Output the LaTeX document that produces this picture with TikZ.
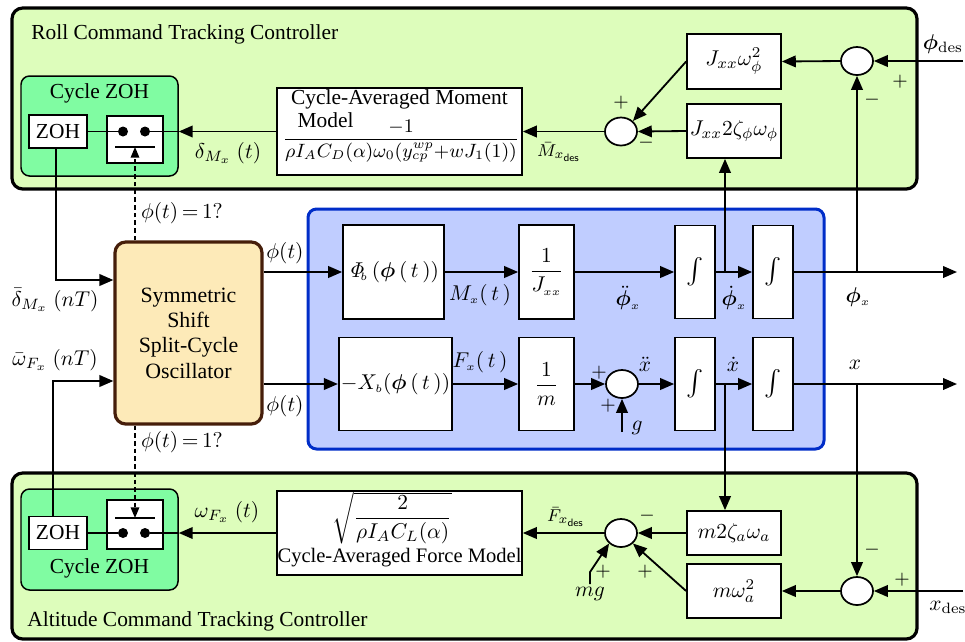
\documentclass[tikz,border=0pt]{standalone}
\usepackage{amsmath,amssymb,bm}
\usepackage[no-math]{fontspec}
\setmainfont{Liberation Serif}
\usetikzlibrary{arrows.meta,shapes.geometric,calc}

\definecolor{panelgreen}{RGB}{221,253,187}
\definecolor{zohgreen}{RGB}{128,252,162}
\definecolor{plantblue}{RGB}{192,205,255}
\definecolor{plantedge}{RGB}{0,45,200}
\definecolor{oscfill}{RGB}{253,234,184}
\definecolor{oscedge}{RGB}{70,30,10}

\def\pxu{0.467pt}

\begin{document}
\begin{tikzpicture}[x=0.467pt,y=-0.467pt,
  wh/.style 2 args={minimum width=#1*\pxu, minimum height=#2*\pxu},
  panel/.style={draw=black, line width=1.5pt, fill=panelgreen, rounded corners=5pt, inner sep=0pt},
  zohgroup/.style={draw=black, line width=0.7pt, fill=zohgreen, rounded corners=4pt, inner sep=0pt},
  blk/.style={draw=black, line width=0.8pt, fill=white, inner sep=1pt},
  sumnode/.style={ellipse, draw=black, line width=0.8pt, fill=white, minimum width=32*\pxu, minimum height=28*\pxu, inner sep=0pt},
  dotnode/.style={circle, fill=black, minimum size=10*\pxu, inner sep=0pt},
  conn/.style={line width=0.85pt, -{Triangle[length=6.5pt,width=5.4pt]}},
  plain/.style={line width=0.85pt},
  trig/.style={line width=0.7pt, dash pattern=on 2.2pt off 1.4pt, -{Triangle[length=5pt,width=4pt]}},
  sgn/.style={inner sep=0pt, font=\small},
]
\useasboundingbox (0,0) rectangle (965,641);

% ---------------- controller panels ----------------
\node[panel, wh={905}{181}] (roll) at (464.5,98.5) {};
\node[panel, wh={905}{166}] (alt) at (464.5,556) {};
\node[anchor=base west, inner sep=0pt] (rolltitle) at (31,39) {Roll Command Tracking Controller};
\node[anchor=base west, inner sep=0pt] (alttitle) at (27,626) {Altitude Command Tracking Controller};

% ---------------- plant ----------------
\node[draw=plantedge, line width=1.4pt, fill=plantblue, rounded corners=4pt, wh={516}{240}, inner sep=0pt] (plant) at (566,329) {};

% ---------------- oscillator ----------------
\node[draw=oscedge, line width=1.5pt, fill=oscfill, rounded corners=5pt, wh={147}{182}, align=center, inner sep=0pt, font=\fontsize{10.2}{11.8}\selectfont] (osc) at (188.5,333)
  {Symmetric\\Shift\\Split-Cycle\\Oscillator};

% ---------------- top cycle ZOH ----------------
\node[zohgroup, wh={157}{100}] (czT) at (99.5,126) {};
\node (czTtitle) at (99.5,93) {Cycle ZOH};
\node[blk, wh={58}{33}] (zohT) at (58,131.5) {ZOH};
\node[blk, wh={56}{47}] (swT) at (135,139.5) {};
\node[dotnode] (dTl) at (123,131.5) {};
\node[dotnode] (dTr) at (145,131.5) {};
\coordinate (barTl) at (115,147);
\coordinate (barTr) at (155,147);
\coordinate (barT) at (135,147);
\draw[line width=0.9pt] (barTl) -- (barTr);

% ---------------- bottom cycle ZOH ----------------
\node[zohgroup, wh={157}{101}] (czB) at (99.5,539.5) {};
\node (czBtitle) at (99.5,568) {Cycle ZOH};
\node[blk, wh={58}{33}] (zohB) at (58,533) {ZOH};
\node[blk, wh={56}{49}] (swB) at (135,524.5) {};
\node[dotnode] (dBl) at (123,533) {};
\node[dotnode] (dBr) at (145,533) {};
\coordinate (barBl) at (115,518);
\coordinate (barBr) at (155,518);
\coordinate (barB) at (135,518);
\draw[line width=0.9pt] (barBl) -- (barBr);

% ---------------- roll controller blocks ----------------
\node[blk, wh={245}{87}] (model) at (399.5,131.5) {};
\node (modelT1) at (399.5,99) {Cycle-Averaged Moment};
\node[anchor=west] (modelT2) at (290,120) {Model};
\node[font=\fontsize{9.2}{11}\selectfont] (modelF) at (401,141) {$\dfrac{-1}{\rho I_A C_D(\alpha)\omega_0(y_{cp}^{wp}{+}wJ_1(1))}$};
\node[blk, wh={94}{55}] (j1) at (734,61.5) {$J_{xx}\omega_\phi^2$};
\node[blk, wh={94}{54}] (j2) at (734,131) {$J_{xx}2\zeta_\phi\omega_\phi$};
\node[sumnode] (s1) at (857,61) {};
\node[sumnode] (s2) at (621,131.5) {};

% ---------------- altitude controller blocks ----------------
\node[blk, wh={245}{84}] (force) at (399.5,533) {};
\node (forceF) at (392,518) {$\sqrt{\dfrac{2}{\rho I_A C_L(\alpha)}}$};
\node[font=\fontsize{9.6}{11}\selectfont] (forceT) at (399.5,558) {Cycle-Averaged Force Model};
\node[blk, wh={94}{44}] (m2) at (734,533) {$m2\zeta_a\omega_a$};
\node[blk, wh={94}{54}] (mw) at (734,591) {$m\omega_a^2$};
\node[sumnode] (s4) at (621,533) {};
\node[sumnode] (s5) at (857,591) {};

% ---------------- plant blocks ----------------
\node[blk, wh={101}{94}] (phib) at (393.5,272) {$\mathit{\Phi}_{\!\scriptscriptstyle b}\,(\bm{\phi}\,(\,t\,))$};
\node[blk, wh={55}{94}] (ij) at (546.5,272) {$\dfrac{1}{J_{\scriptscriptstyle xx}}$};
\node[blk, wh={40}{93}] (int1) at (695,272) {\large$\int$};
\node[blk, wh={40}{93}] (int2) at (773,272) {\large$\int$};
\node[blk, wh={103}{93}] (xb) at (395.5,384) {$-X_{\scriptscriptstyle b}(\bm{\phi}\,(\,t\,))$};
\node[blk, wh={55}{93}] (im) at (546.5,384) {$\dfrac{1}{m}$};
\node[sumnode] (s3) at (622,384) {};
\node[blk, wh={40}{93}] (int3) at (695,384) {\large$\int$};
\node[blk, wh={40}{93}] (int4) at (773,384) {\large$\int$};

% ---------------- free ends and branch points ----------------
\coordinate (phiJ) at (857,272);
\coordinate (phidJ) at (725,272);
\coordinate (xJ) at (857,384);
\coordinate (xdJ) at (725,384);
\coordinate (phiOut) at (957,272);
\coordinate (xOut) at (957,384);
\coordinate (phiDes) at (963,61);
\coordinate (xDes) at (963,591);
\coordinate (gIn) at (622,432);
\coordinate (mgIn) at (590,584);
\coordinate (mgK) at (590,572);

% ---------------- roll loop connectors ----------------
\draw[conn] (phiDes) -- (s1.east);
\draw[conn] (s1.west) -- (j1.east);
\draw[conn] (phiJ) -- (s1.south);
\draw[conn] (j1.west) -- (s2.north east);
\draw[conn] (j2.west) -- (s2.east);
\draw[conn] (phidJ) -- (phidJ |- j2.south);
\draw[conn] (s2.west) -- (model.east);
\draw[conn] (model.west) -- (model.west -| czT.east);
\draw[plain] (dTr) -- (model.west -| czT.east);
\draw[plain] (zohT.east) -- (dTl);

% ---------------- altitude loop connectors ----------------
\draw[conn] (xDes) -- (s5.east);
\draw[conn] (s5.west) -- (mw.east);
\draw[conn] (xJ) -- (s5.north);
\draw[conn] (mw.west) -- (s4.south east);
\draw[conn] (m2.west) -- (s4.east);
\draw[conn] (xdJ) -- (xdJ |- m2.north);
\draw[conn] (mgIn) -- (mgK) -- (s4.south west);
\draw[conn] (s4.west) -- (force.east);
\draw[conn] (force.west) -- (force.west -| czB.east);
\draw[plain] (dBr) -- (force.west -| czB.east);
\draw[plain] (zohB.east) -- (dBl);

% ---------------- oscillator connectors ----------------
\draw[conn] ([xshift=-2*\pxu]zohT.south) |- ($(osc.west)+(0,-53)$);
\draw[conn] ([xshift=-5*\pxu]zohB.north) |- ($(osc.west)+(0,48)$);
\draw[trig] (barT |- osc.north) -- (barT);
\draw[trig] (barB |- osc.south) -- (barB);
\draw[conn] (osc.east |- phib.west) -- (phib.west);
\draw[conn] (osc.east |- xb.west) -- (xb.west);

% ---------------- plant connectors ----------------
\draw[conn] (phib.east) -- (ij.west);
\draw[conn] (ij.east) -- (int1.west);
\draw[conn] (int1.east) -- (int2.west);
\draw[conn] (int2.east) -- (phiOut);
\draw[conn] (xb.east) -- (im.west);
\draw[conn] (im.east) -- (s3.west);
\draw[conn] (gIn) -- (s3.south);
\draw[conn] (s3.east) -- (int3.west);
\draw[conn] (int3.east) -- (int4.west);
\draw[conn] (int4.east) -- (xOut);

% ---------------- signal labels ----------------
\node (lDeltaT) at (228,153) {$\delta_{M_x}\ (t)$};
\node (lMdes) at (559,152) {\footnotesize$\bar{M}_{x_{\text{\sffamily\tiny des}}}$};
\node (lOmegaT) at (227,512) {$\omega_{F_x}\ (t)$};
\node (lFdes) at (566,517) {\footnotesize$\bar{F}_{x_{\text{\sffamily\tiny des}}}$};
\node (lTrigT) at (182,213) {$\phi(t)\,{=}\,1?$};
\node (lTrigB) at (182,442) {$\phi(t)\,{=}\,1?$};
\node (lPhiA) at (285,253) {$\phi(t)$};
\node (lPhiB) at (285,406) {$\phi(t)$};
\node (lDeltaN) at (55,300) {$\bar{\delta}_{M_x}\ (nT)$};
\node (lOmegaN) at (55,360) {$\bar{\omega}_{F_x}\ (nT)$};
\node (lMx) at (480,295) {$M_{\scriptscriptstyle x}(\,t\,)$};
\node (lFx) at (480,362) {$F_{\scriptscriptstyle x}(\,t\,)$};
\node (lPhidd) at (628,298) {$\ddot{\bm{\phi}}_{\scriptscriptstyle x}$};
\node (lPhid) at (734,298) {$\dot{\bm{\phi}}_{\scriptscriptstyle x}$};
\node (lPhi) at (858,297) {$\bm{\phi}_{\scriptscriptstyle x}$};
\node (lXdd) at (645,364) {$\ddot{x}$};
\node (lXd) at (733,364) {$\dot{x}$};
\node (lX) at (855,365) {$x$};
\node (lG) at (637,428) {$g$};
\node (lMg) at (590,594) {$mg$};
\node (lPhiDes) at (943,44) {$\bm{\phi}_{\mathrm{des}}$};
\node (lXDes) at (948,607) {$x_{\mathrm{des}}$};

% ---------------- summing junction signs ----------------
\node[sgn] (p1a) at (900,82) {$+$};
\node[sgn] (p1b) at (872,100) {$-$};
\node[sgn] (p2a) at (621,103) {$+$};
\node[sgn] (p2b) at (646,143) {$-$};
\node[sgn] (p3a) at (599,373) {$+$};
\node[sgn] (p3b) at (608,406) {$+$};
\node[sgn] (p4a) at (647,516) {$-$};
\node[sgn] (p4b) at (645,572) {$+$};
\node[sgn] (p4c) at (603,572) {$+$};
\node[sgn] (p5a) at (902,580) {$+$};
\node[sgn] (p5b) at (872,550) {$-$};
\end{tikzpicture}
\end{document}
